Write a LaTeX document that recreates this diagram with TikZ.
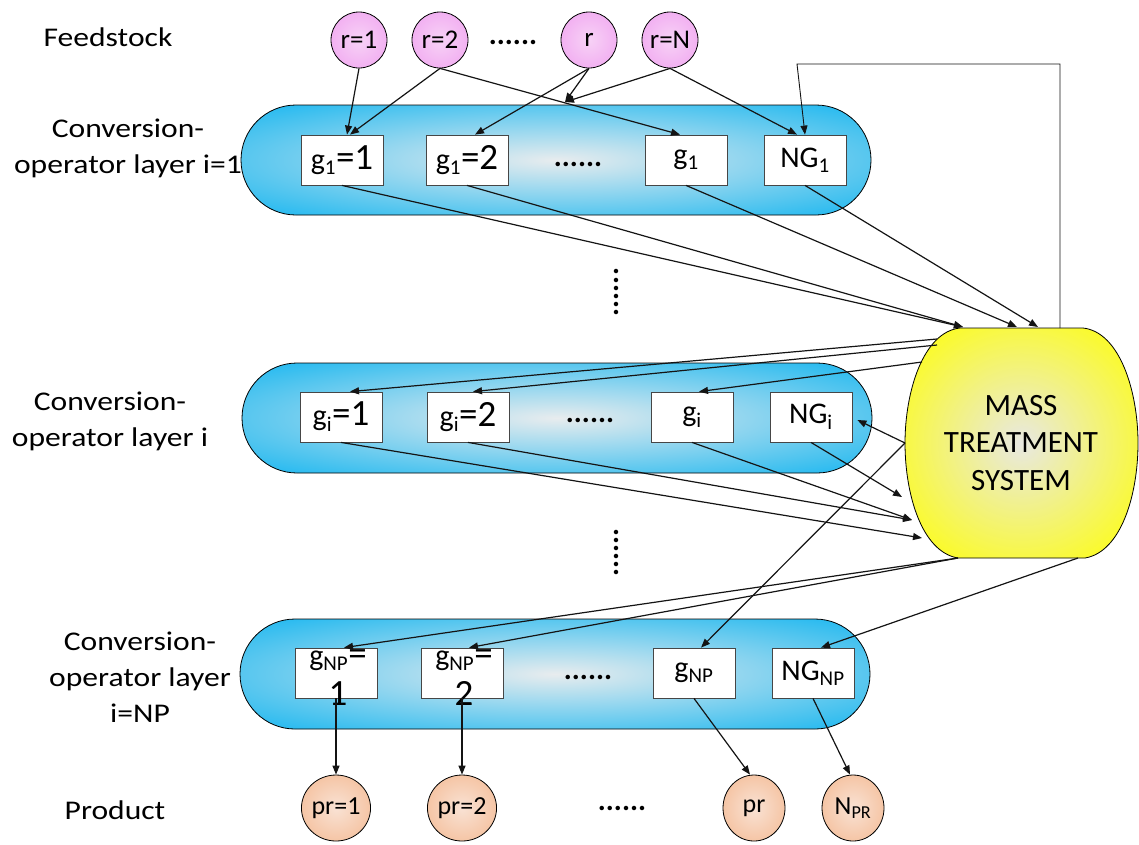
\documentclass[tikz,border=0pt]{standalone}
\usepackage{fontspec}
\setmainfont{Carlito}
\newfontfamily\lblfont[FakeStretch=1.17]{Carlito}
\usetikzlibrary{arrows.meta,calc,shapes.geometric}

\definecolor{layerblue}{RGB}{0,176,240}
\definecolor{layercentre}{RGB}{232,236,238}
\definecolor{feedout}{RGB}{238,150,238}
\definecolor{feedin}{RGB}{247,210,246}
\definecolor{prodout}{RGB}{242,174,128}
\definecolor{prodin}{RGB}{249,226,212}
\definecolor{mtsout}{RGB}{255,255,0}
\definecolor{mtsin}{RGB}{232,232,226}
\definecolor{boxline}{RGB}{70,70,70}
\definecolor{wire}{RGB}{20,20,20}

\pgfdeclareradialshading{layershade}{\pgfpoint{0bp}{0bp}}{color(0bp)=(layercentre); color(40bp)=(layerblue); color(100bp)=(layerblue)}
\pgfdeclareradialshading{feedshade}{\pgfpoint{0bp}{0bp}}{color(0bp)=(feedin); color(45bp)=(feedout); color(100bp)=(feedout)}
\pgfdeclareradialshading{prodshade}{\pgfpoint{0bp}{0bp}}{color(0bp)=(prodin); color(45bp)=(prodout); color(100bp)=(prodout)}
\pgfdeclareradialshading{mtsshade}{\pgfpoint{0bp}{0bp}}{color(0bp)=(mtsin); color(36bp)=(mtsout); color(100bp)=(mtsout)}

% larger digits / signs inside the operator boxes
\newcommand\bigpart[1]{{\fontsize{37}{40}\selectfont #1}}

\begin{document}
\begin{tikzpicture}[x=1pt,y=-1pt,
  layer/.style={draw=black, line width=0.8pt, shade, shading=layershade,
    rounded corners=55pt, minimum width=630pt, minimum height=110pt, inner sep=0pt},
  opbox/.style={draw=boxline, line width=0.8pt, fill=white, minimum width=82pt,
    minimum height=50pt, inner sep=0pt, font=\fontsize{30}{34}\selectfont},
  optext/.style={inner sep=0pt, align=center, font=\fontsize{30}{40}\selectfont},
  feed/.style={circle, draw=black, line width=0.8pt, shade, shading=feedshade,
    minimum size=56pt, inner sep=0pt, font=\fontsize{27}{30}\selectfont},
  prod/.style={ellipse, draw=black, line width=0.8pt, shade, shading=prodshade,
    minimum width=62pt, minimum height=66pt, inner sep=0pt, font=\fontsize{26}{30}\selectfont},
  sidelabel/.style={align=center, inner sep=0pt, font=\lblfont\fontsize{27}{36}\selectfont},
  ellip/.style={inner sep=0pt, anchor=base, font=\bfseries\fontsize{30}{30}\selectfont},
  mtstext/.style={align=center, inner sep=0pt, font=\fontsize{31}{37.5}\selectfont},
  wire/.style={draw=wire, line width=1.2pt, -{Triangle[length=9pt,width=7pt]}}]

\useasboundingbox (0,0) rectangle (1139,844);
\fill[white] (0,0) rectangle (1139,844);

% side labels
\node[sidelabel] (labfeed) at (108,37) {Feedstock};
\node[sidelabel] (lab1) at (128,148) {Conversion-\\operator layer i=1};
\node[sidelabel] (lab2) at (110,421) {Conversion-\\operator layer i};
\node[sidelabel] (lab3) at (140,677) {Conversion-\\operator layer\\i=NP};
\node[sidelabel] (labprod) at (115,810) {Product};

% feedstock
\node[feed] (f1) at (359,40) {r=1};
\node[feed] (f2) at (440,40) {r=2};
\node[feed] (fr) at (589,40) {r};
\node[feed] (fN) at (670,40) {r=N};
\node[ellip] (fdots) at (513,44) {......};

% conversion-operator layers
\node[layer] (L1) at (556,160) {};
\node[layer] (L2) at (557,418) {};
\node[layer] (L3) at (555,674) {};

\node[opbox] (a1) at (342,160) {g\textsubscript{1}\bigpart{=1}};
\node[opbox] (a2) at (467,160) {g\textsubscript{1}\bigpart{=2}};
\node[ellip] (adots) at (578,166) {......};
\node[opbox] (a3) at (686,160) {g\textsubscript{1}};
\node[opbox] (a4) at (805,160) {NG\textsubscript{1}};

\node[opbox] (b1) at (341,417) {g\textsubscript{i}\bigpart{=1}};
\node[opbox] (b2) at (468,417) {g\textsubscript{i}\bigpart{=2}};
\node[ellip] (bdots) at (590,422) {......};
\node[opbox] (b3) at (692,417) {g\textsubscript{i}};
\node[opbox] (b4) at (811,417) {NG\textsubscript{i}};

\node[opbox] (c1) at (336,673) {};
\node[optext] (c1t) at (338,678) {g\textsubscript{NP}\bigpart{=}\\\bigpart{1}};
\node[opbox] (c2) at (462,673) {};
\node[optext] (c2t) at (464,678) {g\textsubscript{NP}\bigpart{=}\\\bigpart{2}};
\node[ellip] (cdots) at (588,679) {......};
\node[opbox] (c3) at (694,673) {g\textsubscript{NP}};
\node[opbox] (c4) at (813,673) {NG\textsubscript{NP}};

% vertical ellipses between the layers
\node[ellip, anchor=center, rotate=90] (vdots1) at (616,292) {......};
\node[ellip, anchor=center, rotate=90] (vdots2) at (616,552) {......};

% products
\node[prod] (p1) at (336,808) {pr=1};
\node[prod] (p2) at (462,808) {pr=2};
\node[ellip] (pdots) at (622,810) {......};
\node[prod] (p3) at (754,808) {pr};
\node[prod] (p4) at (853,808) {N\textsubscript{PR}};

% mass treatment system
\path[draw=black, line width=0.8pt, shade, shading=mtsshade]
  (960,328) -- (1083,328)
  .. controls (1120,332) and (1138,392) .. (1138,443)
  .. controls (1138,495) and (1121,552) .. (1085,558)
  -- (958,558)
  .. controls (922,552) and (905,495) .. (905,443)
  .. controls (905,392) and (923,332) .. (960,328) -- cycle;
\node[mtstext] (mts) at (1021,443) {MASS\\TREATMENT\\SYSTEM};

% ports on the outline of the treatment system
\coordinate (mtsTL) at (963,327);
\coordinate (mtsTa) at (1017,327);
\coordinate (mtsTb) at (1038,327);
\coordinate (mtsfb) at (1060,328);
\coordinate (mtsUL1) at (937,339);
\coordinate (mtsUL2) at (937,345);
\coordinate (mtsUL3) at (922,362);
\coordinate (mtsW) at (905,443);
\coordinate (mtsL1) at (902,497);
\coordinate (mtsL2) at (912,520);
\coordinate (mtsL3) at (922,538);
\coordinate (mtsBL) at (958,558);
\coordinate (mtsBR) at (1078,558);
\coordinate (fbcorner) at (797,64);
\coordinate (L1in) at (565,102);

% feedstock to first layer
\draw[wire] (f1.south) -- ($(a1.north)+(5,0)$);
\draw[wire] (f2.south) -- ($(a1.north)+(8,0)$);
\draw[wire] (f2.south) -- ($(a3.north)+(-6,0)$);
\draw[wire] (fr.south) -- ($(a2.north)+(8,0)$);
\draw[wire] (fr.south) -- (L1in);
\draw[wire] (fN.south) -- (L1in);
\draw[wire] (fN.south) -- ($(a4.north)+(-8,0)$);

% recycle from the treatment system back to the first layer
\draw[wire, line width=0.9pt] (mtsfb) |- (fbcorner) -- (a4.north);

% first layer to treatment system
\draw[wire] (a1.south) -- (mtsTL);
\draw[wire] (a2.south) -- (mtsTL);
\draw[wire] (a3.south) -- (mtsTa);
\draw[wire] (a4.south) -- (mtsTb);

% treatment system to layer i
\draw[wire] (mtsUL1) -- ($(b1.north)+(9,0)$);
\draw[wire] (mtsUL2) -- ($(b2.north)+(5,0)$);
\draw[wire] (mtsUL3) -- ($(b3.north)+(7,0)$);
\draw[wire] (mtsW) -- ($(b4.east)+(5,3)$);

% layer i to treatment system
\draw[wire] (b1.south) -- (mtsL3);
\draw[wire] (b2.south) -- (mtsL2);
\draw[wire] (b3.south) -- (mtsL2);
\draw[wire] (b4.south) -- (mtsL1);

% treatment system to last layer
\draw[wire] (mtsBL) -- ($(c1.north)+(8,0)$);
\draw[wire] (mtsBL) -- ($(c2.north)+(7,0)$);
\draw[wire] (mtsW) -- ($(c3.north)+(7,0)$);
\draw[wire] (mtsBR) -- ($(c4.north)+(8,0)$);

% last layer to products
\draw[wire] (c1.south) -- (p1.north);
\draw[wire] (c2.south) -- (p2.north);
\draw[wire] (c3.south) -- ($(p3.north)+(-4,0)$);
\draw[wire] (c4.south) -- ($(p4.north)+(-3,0)$);
\end{tikzpicture}
\end{document}
